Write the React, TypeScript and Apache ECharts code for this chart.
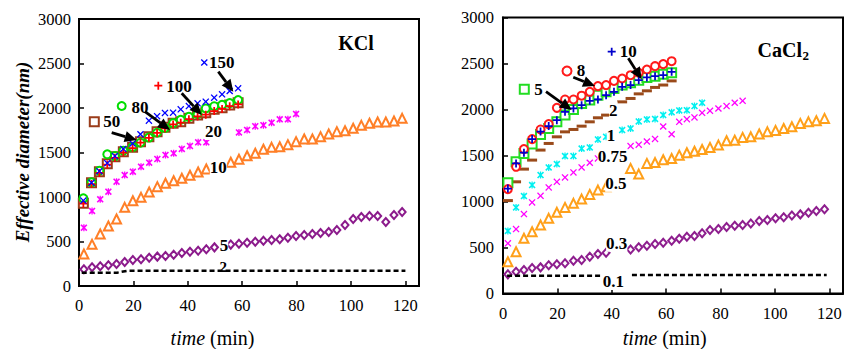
import React, { useEffect, useRef } from 'react';
import * as echarts from 'echarts';

const FONT = '"Liberation Serif", "Times New Roman", serif';
const FAMILY = 'Liberation Serif';

// ---------- KCl (left) ----------
const kclHighTime = [1.6, 4.6, 7.5, 10.4, 13.2, 16.3, 19.7, 22.6, 25.7, 28.7, 31.6, 34.6, 37.4, 40.4, 43.6, 46.6, 49.7, 52.6, 55.4, 58.5];
const kcl50 = [930, 1160, 1285, 1375, 1453, 1509, 1558, 1621, 1678, 1734, 1783, 1828, 1846, 1884, 1921, 1947, 1985, 2003, 2034, 2060];
const kcl80 = [985, 1165, 1295, 1480, 1460, 1520, 1560, 1610, 1668, 1722, 1775, 1830, 1868, 1900, 1930, 1995, 2020, 2035, 2055, 2090];
const kcl100 = [925, 1145, 1270, 1365, 1440, 1500, 1550, 1610, 1665, 1720, 1770, 1815, 1835, 1875, 1905, 1925, 1965, 1990, 2020, 2040];
const kcl150 = [960, 1160, 1290, 1380, 1460, 1540, 1600, 1705, 1858, 1908, 1945, 1948, 1985, 2022, 2052, 2071, 2116, 2154, 2191, 2221];

const kclLowTime = [1.8, 4.8, 7.8, 10.8, 13.8, 16.8, 19.8, 22.8, 25.8, 28.8, 31.8, 34.8, 37.8, 40.8, 43.8, 46.8, 49.8, 52.8, 55.8, 58.8,
  61.8, 64.8, 67.8, 70.8, 73.8, 76.8, 79.8, 82.8, 85.8, 88.8, 91.8, 94.8, 97.8, 100.8, 103.8, 106.8, 109.8, 112.8, 115.8, 118.8];
const kcl20 = [655, 843, 974, 1060, 1172, 1247, 1284, 1341, 1386, 1427, 1472, 1491, 1540, 1573, 1614, 1614, null, null, null, 1725,
  1753, 1795, 1807, 1835, 1873, 1873, 1933];
const kcl10 = [360, 468, 584, 674, 753, 884, 958, 996, 1056, 1116, 1154, 1183, 1210, 1244, 1281, 1315, null, null, 1390, 1424,
  1464, 1491, 1536, 1558, 1565, 1588, 1622, 1652, 1652, 1678, 1708, 1734, 1745, 1772, 1805, 1828, 1843, 1843, 1854, 1884];
const kcl5 = [187, 210, 221, 232, 247, 270, 292, 300, 318, 330, 337, 352, 371, 386, 397, 412, 434, null, 465, 475,
  487, 498, 509, 517, 525, 543, 562, 573, 584, 596, 607, 629, 685, 753, 775, 787, 787, 720, 798, 831];
const kcl2Time = [1, 14, 18, 120];
const kcl2 = [150, 150, 172, 172];

// ---------- CaCl2 (right) ----------
const caclTime = [1.8, 4.8, 7.7, 10.7, 13.8, 16.8, 19.8, 22.8, 25.9, 28.9, 31.9, 34.9, 37.9, 40.8, 43.8, 46.9, 49.9, 52.9, 55.9, 58.9,
  62.0, 64.8, 67.6, 70.4, 73.2, 76.1, 79.2, 82.2, 85.2, 88.1, 91.1, 94.2, 97.2, 100.2, 103.2, 106.2, 109.3, 112.3, 115.2, 118.2];
const cacl10 = [1140, 1414, 1530, 1678, 1760, 1820, 1884, 1975, 2011, 2047, 2094, 2109, 2156, 2192, 2246, 2265, 2319, 2348, 2362, 2373, 2409];
const cacl8 = [1135, 1377, 1570, 1678, 1783, 1841, 2018, 2109, 2109, 2150, 2192, 2254, 2265, 2311, 2337, 2373, 2399, 2435, 2471, 2493, 2525];
const cacl5 = [1204, 1432, 1523, 1624, 1729, 1794, 1866, 1939, 2000, 2066, 2102, 2156, 2192, 2229, 2265, 2290, 2319, 2348, 2362, 2384, 2399];
const cacl2 = [1010, 1214, 1352, 1450, 1559, 1631, 1703, 1757, 1783, 1819, 1866, 1910, 1939, null, 2083, 2120, 2170, 2203, 2240, 2266, 2311];
const cacl1 = [680, 936, 1059, 1179, 1287, 1370, 1407, 1494, 1494, 1575, 1588, 1675, 1703, null, 1776, 1794, 1870, 1892, 1897, 1940,
  1970, 1990, 1993, 2037, 2073];
const cacl075 = [545, 700, 863, 990, 1062, 1153, 1214, 1262, 1316, 1370, 1421, 1468, null, null, null, 1602, 1618, 1652, 1680, 1815,
  1731, 1866, 1895, 1914, 1964, 1986, 2011, 2037, 2073, 2094];
const cacl05 = [345, 454, 600, 671, 744, 817, 882, 936, 980, 1026, 1077, 1124, 1160, null, null, 1360, 1298, 1414, 1423, 1454,
  1468, 1504, 1530, 1546, 1566, 1588, 1613, 1660, 1667, 1697, 1703, 1733, 1757, 1773, 1794, 1812, 1849, 1866, 1877, 1903];
const cacl03 = [208, 237, 255, 277, 284, 306, 317, 328, 356, 364, 400, 429, 443, null, null, 478, 502, 519, 538, 552,
  574, 595, 617, 625, 655, 690, 700, 722, 737, 744, 762, 787, 798, 817, 828, 849, 860, 878, 896, 915];
const cacl01Time = [1.5, 35.8, 41, 47.4, 119];
const cacl01 = [193, 193, null, 201, 201];

const xTicks = [0, 20, 40, 60, 80, 100, 120];
const yTicks = [0, 500, 1000, 1500, 2000, 2500, 3000];

const PLUS = 'path://M3.9,0H6.1V3.9H10V6.1H6.1V10H3.9V6.1H0V3.9H3.9Z';
const CROSS = 'path://M0,1.3L1.3,0L5,3.7L8.7,0L10,1.3L6.3,5L10,8.7L8.7,10L5,6.3L1.3,10L0,8.7L3.7,5Z';
const STAR = 'path://M0,1.6L1.6,0L5,3.4L8.4,0L10,1.6L6.6,5L10,8.4L8.4,10L5,6.6L1.6,10L0,8.4L3.4,5Z M4.1,0H5.9V10H4.1Z';

function pairs(t: number[], v: (number | null)[]) {
  const out: number[][] = [];
  v.forEach((y, i) => { if (y !== null && y !== undefined) out.push([t[i], y]); });
  return out;
}

function scatter(name: string, gi: number, t: number[], v: (number | null)[], symbol: string, size: any, color: string, empty: boolean) {
  return {
    type: 'scatter', name, xAxisIndex: gi, yAxisIndex: gi,
    data: pairs(t, v), symbol, symbolSize: size,
    itemStyle: empty ? { color, borderColor: color, borderWidth: 1.1, opacity: 1 } : { color, borderWidth: 0, opacity: 1 },
    emphasis: { disabled: true },
  };
}

function dashed(name: string, gi: number, t: number[], v: (number | null)[]) {
  return {
    type: 'line', name, xAxisIndex: gi, yAxisIndex: gi,
    data: t.map((x, i) => [x, v[i]]), showSymbol: false, symbol: 'none', connectNulls: false,
    lineStyle: { color: '#000', width: 2.5, type: [5, 3] },
  };
}

function label(x: number, y: number, text: string, size = 17, bg = true) {
  return {
    type: 'text', x, y, z: 100,
    style: {
      text, font: `bold ${size}px ${FONT}`, fill: '#000',
      align: 'center', verticalAlign: 'middle', textAlign: 'center', textVerticalAlign: 'middle',
      backgroundColor: bg ? '#fff' : 'transparent',
    },
  };
}

function arrow(x1: number, y1: number, x2: number, y2: number) {
  const dx = x2 - x1, dy = y2 - y1, len = Math.hypot(dx, dy);
  const ux = dx / len, uy = dy / len, L = 12, W = 5.5;
  const bx = x2 - ux * L, by = y2 - uy * L;
  return [
    { type: 'line', z: 101, shape: { x1, y1, x2: bx, y2: by }, style: { stroke: '#000', lineWidth: 2.8 } },
    { type: 'polygon', z: 101, shape: { points: [[x2, y2], [bx - uy * W, by + ux * W], [bx + uy * W, by - ux * W]] }, style: { fill: '#000' } },
  ];
}

function keyIcon(name: string, cx: number, cy: number, w = 9, h = 9) {
  return {
    data: [name], left: cx - w / 2, top: cy - h / 2, itemWidth: w, itemHeight: h, padding: 0,
    selectedMode: false, formatter: () => '', textStyle: { fontSize: 4, lineHeight: 4 }, z: 50,
  };
}

function xAxis(gi: number) {
  return {
    type: 'value', gridIndex: gi, min: 0, max: 125, interval: 20,
    axisLine: { show: true, onZero: false, lineStyle: { color: '#000', width: 2 } },
    axisTick: { show: true, inside: true, length: 5, lineStyle: { color: '#000', width: 1.5 } },
    axisLabel: {
      margin: 11, fontSize: 16.5, fontFamily: FAMILY, color: '#000', showMaxLabel: false,
      formatter: (v: number) => (xTicks.includes(v) ? String(v) : ''),
    },
    splitLine: { show: false },
  };
}

function yAxis(gi: number, margin: number) {
  return {
    type: 'value', gridIndex: gi, min: 0, max: 3000, interval: 500,
    axisLine: { show: true, onZero: false, lineStyle: { color: '#000', width: 2 } },
    axisTick: { show: true, inside: true, length: 5, lineStyle: { color: '#000', width: 1.5 } },
    axisLabel: {
      margin, fontSize: 16.5, fontFamily: FAMILY, color: '#000',
      formatter: (v: number) => (yTicks.includes(v) ? String(v) : ''),
    },
    splitLine: { show: false },
  };
}

const option: any = {
  animation: false,
  backgroundColor: '#fff',
  textStyle: { fontFamily: FAMILY },
  grid: [
    { left: 79, top: 19, width: 340, height: 267, show: true, borderColor: '#000', borderWidth: 2, backgroundColor: 'transparent' },
    { left: 503, top: 17.5, width: 340, height: 276, show: true, borderColor: '#000', borderWidth: 2, backgroundColor: 'transparent' },
  ],
  xAxis: [xAxis(0), xAxis(1)],
  yAxis: [yAxis(0, 8), yAxis(1, 9)],
  legend: [
    keyIcon('K50', 93.3, 120.7),
    keyIcon('K80', 120.7, 105, 8, 8),
    keyIcon('K100', 158.3, 85.7, 8, 8),
    keyIcon('K150', 204.3, 62.5, 7, 7),
    keyIcon('C10', 611.7, 51.7, 8, 8),
    keyIcon('C8', 566, 70),
    keyIcon('C5', 523.3, 88.3),
  ],
  series: [
    dashed('K2', 0, kcl2Time, kcl2),
    scatter('K5', 0, kclLowTime, kcl5, 'emptyDiamond', [7, 8], '#8B1A8B', true),
    scatter('K10', 0, kclLowTime, kcl10, 'emptyTriangle', [9, 9], '#FF7F27', true),
    scatter('K20', 0, kclLowTime, kcl20, STAR, 7, '#FF00FF', false),
    scatter('K50', 0, kclHighTime, kcl50, 'emptyRect', 9, '#9A3C1A', true),
    scatter('K80', 0, kclHighTime, kcl80, 'emptyCircle', 8, '#00DD00', true),
    scatter('K100', 0, kclHighTime, kcl100, PLUS, 8, '#FF0000', false),
    scatter('K150', 0, kclHighTime, kcl150, CROSS, 7, '#0000FF', false),

    dashed('C0.1', 1, cacl01Time, cacl01),
    scatter('C0.3', 1, caclTime, cacl03, 'emptyDiamond', [7, 8], '#8E1E8E', true),
    scatter('C0.5', 1, caclTime, cacl05, 'emptyTriangle', [9, 9], '#FFA01A', true),
    scatter('C0.75', 1, caclTime, cacl075, CROSS, 7, '#FF00FF', false),
    scatter('C1', 1, caclTime, cacl1, STAR, 7, '#00F0F0', false),
    scatter('C2', 1, caclTime, cacl2, 'rect', [10, 3], '#9A4A1A', false),
    scatter('C5', 1, caclTime, cacl5, 'emptyRect', 9, '#22DD22', true),
    scatter('C8', 1, caclTime, cacl8, 'emptyCircle', 8, '#FF1A1A', true),
    scatter('C10', 1, caclTime, cacl10, PLUS, 8, '#0000CC', false),
  ],
  graphic: [
    {
      type: 'text', x: 22, y: 152, rotation: Math.PI / 2, z: 100,
      style: {
        text: 'Effective diameter(nm)', font: `italic bold 19px ${FONT}`, fill: '#000',
        align: 'center', verticalAlign: 'middle', textAlign: 'center', textVerticalAlign: 'middle',
      },
    },
    {
      type: 'text', x: 212.5, y: 338, z: 100,
      style: {
        text: '{i|time} {n|(min)}', fill: '#000', align: 'center', verticalAlign: 'middle', textAlign: 'center', textVerticalAlign: 'middle',
        rich: { i: { font: `italic 20px ${FONT}`, fill: '#000' }, n: { font: `20px ${FONT}`, fill: '#000' } },
        font: `20px ${FONT}`,
      },
    },
    {
      type: 'text', x: 664.7, y: 338, z: 100,
      style: {
        text: '{i|time} {n|(min)}', fill: '#000', align: 'center', verticalAlign: 'middle', textAlign: 'center', textVerticalAlign: 'middle',
        rich: { i: { font: `italic 20px ${FONT}`, fill: '#000' }, n: { font: `20px ${FONT}`, fill: '#000' } },
        font: `20px ${FONT}`,
      },
    },
    label(356, 43, 'KCl', 20, false),
    {
      type: 'text', x: 802, y: 50, z: 100,
      style: { text: 'CaCl', font: `bold 20px ${FONT}`, fill: '#000', align: 'right', verticalAlign: 'middle', textAlign: 'right', textVerticalAlign: 'middle' },
    },
    {
      type: 'text', x: 802.5, y: 55, z: 100,
      style: { text: '2', font: `bold 13px ${FONT}`, fill: '#000', align: 'left', verticalAlign: 'middle', textAlign: 'left', textVerticalAlign: 'middle' },
    },
    label(221.7, 62.7, '150', 17, false),
    label(179, 86, '100', 17, false),
    label(140, 107, '80', 17, false),
    label(111.7, 121.5, '50', 17, false),
    label(213.5, 131.5, '20'),
    label(218.3, 167, '10'),
    label(224, 245, '5'),
    label(223.3, 267, '2', 15, false),
    ...arrow(218.3, 71.7, 233.3, 91.7),
    ...arrow(181.7, 93.3, 201.7, 115),
    ...arrow(145, 111.7, 170, 130),
    ...arrow(111.7, 132.7, 136.7, 140),
    label(628.3, 51.7, '10', 17, false),
    label(581, 70.5, '8', 17, false),
    label(538.5, 89.3, '5', 17, false),
    label(613.3, 110, '2'),
    label(611, 135, '1'),
    label(612.5, 156.7, '0.75'),
    label(615.8, 183.3, '0.5'),
    label(616.7, 243.3, '0.3'),
    label(613.3, 281.5, '0.1'),
    ...arrow(628.3, 58.3, 641.7, 79.3),
    ...arrow(573.3, 77.3, 595, 86),
    ...arrow(546, 91.7, 571.7, 110),
  ],
};

export default function App() {
  const ref = useRef<HTMLDivElement>(null);
  useEffect(() => {
    const chart = echarts.init(ref.current!, undefined, { renderer: 'svg' });
    chart.setOption(option);
    return () => chart.dispose();
  }, []);
  return (
    <div
      ref={ref}
      style={{ position: 'fixed', left: 0, top: 0, width: 851, height: 349, background: '#fff' }}
    />
  );
}
